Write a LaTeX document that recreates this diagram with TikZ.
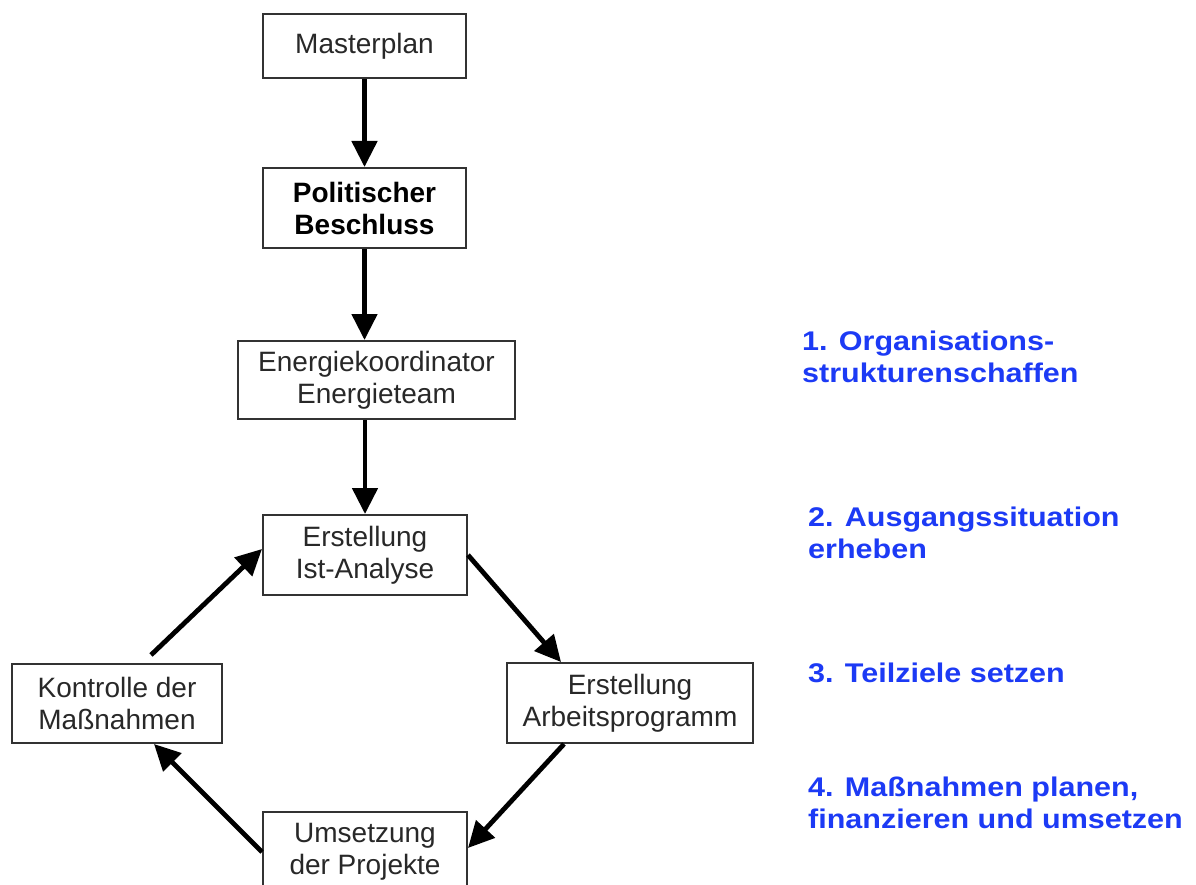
\documentclass[tikz,border=0pt]{standalone}
\usepackage{fontspec}
\setmainfont{Liberation Sans}
\newfontfamily\bluefont[FakeStretch=1.13]{Liberation Sans}
\usetikzlibrary{arrows.meta}
\definecolor{stepblue}{RGB}{28,58,245}
\definecolor{boxline}{RGB}{50,50,50}
\definecolor{boxtext}{RGB}{40,40,40}
\begin{document}
\begin{tikzpicture}[x=1pt,y=-1pt,
  box/.style={draw=boxline, line width=2pt, inner sep=0pt, align=center,
    text=boxtext, font=\fontsize{28}{32}\selectfont},
  flow/.style={line width=4.8pt, -{Triangle[width=25pt,length=26pt]}},
  steplabel/.style={anchor=base west, inner sep=0pt, align=left,
    text=stepblue, font=\bluefont\bfseries\fontsize{27}{32}\selectfont}]
\useasboundingbox (0,0) rectangle (1196,885);
\clip (0,0) rectangle (1196,885);
\fill[white] (0,0) rectangle (1196,885);

\node[box, minimum width=203pt, minimum height=64pt] (master) at (364.5,46) {Masterplan};
\node[box, minimum width=203pt, minimum height=80pt, font=\fontsize{28}{32}\selectfont\bfseries, text=black] (polit) at (364.5,208) {Politischer\\Beschluss};
\node[box, minimum width=277pt, minimum height=78pt] (energ) at (376.5,380) {Energiekoordinator\\Energieteam};
\node[box, minimum width=204pt, minimum height=80pt] (ist) at (365,555) {Erstellung\\Ist-Analyse};
\node[box, minimum width=210pt, minimum height=79pt] (kontr) at (117,703.5) {Kontrolle der\\Maßnahmen};
\node[box, minimum width=246pt, minimum height=80pt] (arbeit) at (630,703) {Erstellung\\Arbeitsprogramm};
\node[box, minimum width=204pt, minimum height=80pt] (umsetz) at (365,852) {Umsetzung\\der Projekte};

\draw[flow] (master.south) -- (polit.north);
\draw[flow] (polit.south) -- (polit.south |- energ.north);
\draw[flow] (ist.north |- energ.south) -- (ist.north);
\draw[flow] (ist.east) -- ([xshift=55pt]arbeit.north west);
\draw[flow] ([xshift=58pt]arbeit.south west) -- ([yshift=4pt]umsetz.east);
\draw[flow] (umsetz.west) -- ([xshift=143pt]kontr.south west);
\draw[flow] ([xshift=140pt,yshift=8pt]kontr.north west) -- ([yshift=6pt]ist.west);

\node[steplabel] (s1) at (802,382) {1. Organisations-\\strukturenschaffen};
\node[steplabel] (s2) at (808,558) {2. Ausgangssituation\\erheben};
\node[steplabel] (s3) at (808,682) {3. Teilziele setzen};
\node[steplabel] (s4) at (808,828) {4. Maßnahmen planen,\\finanzieren und umsetzen};
\end{tikzpicture}
\end{document}
